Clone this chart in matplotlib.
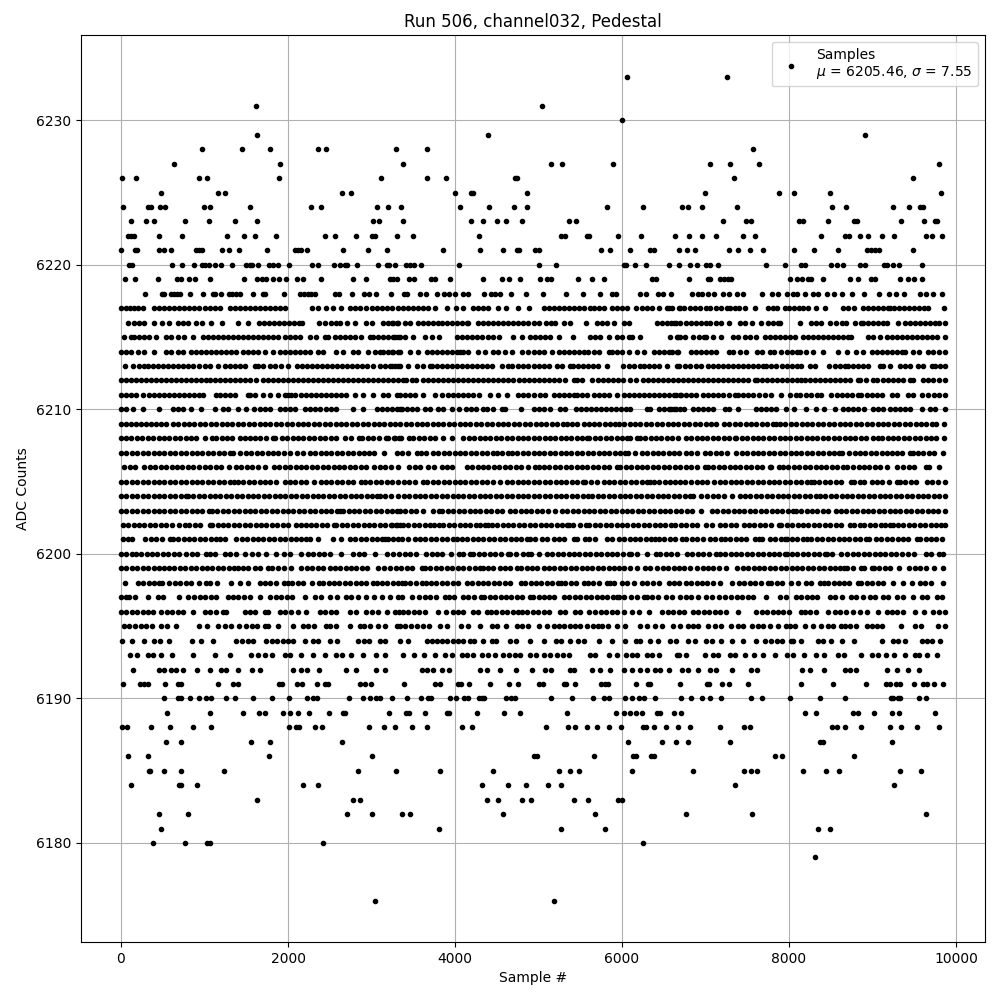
import matplotlib
matplotlib.use("Agg")
import matplotlib.pyplot as plt

# Sample numbers at each ADC level.
# Only a subset of the samples can be told apart where dots overlap.
x_6176 = [3038, 5186]
x_6179 = [8311]
x_6180 = [379, 762, 1030, 1062, 2415, 6251]
x_6181 = [475, 3804, 5269, 5797, 8347, 8491]
x_6182 = [451, 798, 2702, 3002, 3361, 3457, 4570, 5677, 6766, 7557, 9641]
x_6183 = [1625, 2774, 2858, 4379, 4511, 4798, 4914, 5425, 5593, 5952, 6004]
x_6184 = [116, 690, 718, 906, 2176, 2355, 4319, 4631, 4846, 5114, 5269, 7353, 9257]
x_6185 = [331, 351, 511, 718, 1230, 2834, 3289, 3816, 4451, 5245, 5377, 5485, 6120, 6850, 7461, 7545, 7617, 8168, 8443, 8599, 9329, 9585]
x_6186 = [80, 319, 1768, 3002, 4946, 4986, 5665, 6132, 6168, 6347, 6383, 7832, 7916, 8778]
x_6187 = [535, 715, 1553, 1780, 2643, 6072, 6479, 6647, 6790, 7293, 8367, 8407, 9234]
x_6188 = [8, 68, 355, 583, 858, 1074, 2008, 2096, 2136, 2319, 2403, 2966, 3146, 3277, 3481, 3661, 4080, 4200, 5090, 5353, 5437, 5581, 5701, 5844, 5988, 6251, 6287, 6383, 6527, 6671, 6814, 7174, 7461, 7533, 8515, 8575, 8671, 8862, 9210, 9341, 9533, 9796]
x_6189 = [547, 1062, 1457, 1649, 1721, 1936, 2020, 2116, 2248, 2487, 2655, 2679, 3206, 3409, 3445, 3637, 3900, 3932, 4259, 4583, 4775, 5341, 5928, 6024, 6092, 6168, 6240, 6419, 6451, 6623, 6707, 8192, 8323, 8763, 8826, 9018, 9234, 9313, 9749]
x_6190 = [511, 679, 719, 823, 931, 1015, 1075, 1255, 1363, 1579, 1807, 2011, 2227, 2299, 2347, 2731, 2899, 2983, 3055, 3103, 3247, 3427, 3595, 3679, 3715, 3943, 4015, 4111, 4159, 4291, 4327, 4351, 4615, 4675, 4723, 5148, 5400, 5652, 5784, 5844, 6036, 6120, 6204, 6264, 6396, 6708, 6828, 6960, 7056, 7188, 7548, 7680, 8016, 8376, 8676, 9216, 9240, 9300, 9324, 9552, 9636]
x_6191 = [20, 228, 272, 320, 532, 688, 720, 1160, 1340, 1400, 1892, 1928, 2108, 2168, 2348, 2444, 2480, 2864, 2924, 2996, 3392, 3764, 3824, 4040, 4076, 4172, 4424, 4652, 4760, 5004, 5052, 5304, 5332, 5436, 5748, 5792, 5832, 6168, 6312, 6336, 6696, 7020, 7044, 7200, 7284, 7512, 8148, 8532, 8916, 9156, 9204, 9276, 9324, 9492, 9600, 9648, 9732, 9840]
x_6192 = [148, 460, 520, 600, 660, 748, 908, 1060, 1200, 1260, 1400, 1572, 1660, 2060, 2160, 2228, 2372, 2700, 2812, 3052, 3160, 3600, 3660, 3740, 3840, 3932, 4300, 4380, 4540, 4732, 4920, 5080, 5152, 5380, 5420, 5640, 5740, 5860, 6020, 6120, 6220, 6300, 6400, 6460, 6560, 6720, 6785, 6908, 7056, 7120, 7320, 7548, 7616, 8156, 8256, 8416, 8668, 8733, 8808, 9168, 9288, 9428, 9560]
x_6193 = [108, 188, 320, 385, 480, 612, 860, 1120, 1308, 1560, 1640, 1720, 1810, 1960, 2025, 2160, 2300, 2440, 2580, 2645, 2760, 2900, 3048, 3160, 3380, 3508, 3632, 3760, 3880, 3968, 4080, 4145, 4210, 4320, 4400, 4480, 4572, 4652, 4717, 4782, 4900, 4968, 5060, 5140, 5220, 5292, 5360, 5612, 5680, 5840, 5940, 6052, 6117, 6182, 6300, 6360, 6440, 6660, 6688, 6768, 6988, 7088, 7153, 7288, 7356, 7468, 7580, 7688, 7828, 7980, 8048, 8176, 8328, 8416, 8588, 8656, 8868, 8996, 9060, 9160, 9260, 9388, 9508, 9560, 9648, 9768]
x_6194 = [8, 128, 280, 400, 465, 570, 852, 960, 1100, 1380, 1445, 1520, 1580, 1740, 1805, 1870, 1935, 2000, 2065, 2200, 2300, 2365, 2500, 2588, 2840, 2905, 2970, 3100, 3160, 3340, 3440, 3660, 3730, 3780, 3845, 3910, 3975, 4040, 4100, 4180, 4232, 4340, 4440, 4488, 4660, 4730, 4900, 5060, 5212, 5270, 5380, 5470, 5540, 5730, 5880, 6040, 6170, 6210, 6340, 6428, 6580, 6650, 6788, 6880, 7008, 7073, 7188, 7320, 7448, 7600, 7708, 7788, 7853, 7918, 8028, 8048, 8148, 8348, 8408, 8500, 8636, 8776, 9116, 9240, 9305, 9388, 9588, 9650, 9708, 9808]
x_6195 = [32, 97, 162, 240, 300, 372, 480, 548, 660, 932, 1032, 1160, 1240, 1320, 1412, 1500, 1565, 1630, 1720, 1760, 1880, 2060, 2180, 2245, 2310, 2460, 2500, 2580, 2740, 2860, 2912, 2980, 3080, 3160, 3300, 3340, 3405, 3470, 3540, 3620, 3692, 3820, 3900, 4068, 4160, 4300, 4440, 4508, 4612, 4740, 4805, 4870, 5000, 5100, 5180, 5245, 5310, 5375, 5440, 5500, 5580, 5648, 5708, 5760, 5828, 5940, 6040, 6220, 6300, 6400, 6480, 6608, 6700, 6788, 6848, 6910, 7028, 7108, 7188, 7300, 7388, 7448, 7556, 7628, 7688, 7768, 7868, 7968, 8008, 8070, 8188, 8288, 8388, 8468, 8530, 8628, 8668, 8733, 8798, 8928, 8988, 9050, 9108, 9340, 9508, 9576, 9788, 9868]
x_6196 = [0, 65, 130, 195, 260, 320, 380, 480, 545, 610, 680, 740, 860, 1000, 1060, 1140, 1220, 1260, 1480, 1545, 1610, 1720, 1760, 1900, 1965, 2030, 2120, 2220, 2380, 2445, 2510, 2575, 2740, 2820, 2932, 3000, 3080, 3180, 3280, 3330, 3375, 3440, 3505, 3570, 3640, 3800, 3892, 3972, 4037, 4100, 4220, 4280, 4380, 4430, 4495, 4560, 4625, 4700, 4760, 4800, 4865, 4930, 4995, 5060, 5125, 5260, 5320, 5440, 5500, 5600, 5680, 5745, 5810, 5875, 5940, 6020, 6120, 6200, 6320, 6480, 6545, 6610, 6680, 6748, 6848, 6913, 6978, 7043, 7108, 7173, 7240, 7388, 7608, 7673, 7738, 7803, 7868, 7933, 7998, 8148, 8188, 8253, 8318, 8468, 8548, 8613, 8678, 8768, 8856, 8936, 9068, 9168, 9233, 9298, 9363, 9508, 9620, 9728, 9793, 9868]
x_6197 = [0, 60, 100, 172, 328, 440, 500, 692, 800, 880, 945, 1010, 1075, 1140, 1280, 1340, 1405, 1470, 1540, 1660, 1790, 1855, 1920, 1985, 2050, 2200, 2320, 2390, 2500, 2590, 2700, 2760, 2840, 2932, 3030, 3120, 3220, 3320, 3370, 3488, 3570, 3635, 3700, 3770, 3880, 3930, 3990, 4100, 4150, 4230, 4310, 4350, 4415, 4480, 4545, 4610, 4675, 4740, 4800, 4900, 4930, 5000, 5060, 5125, 5190, 5300, 5370, 5435, 5500, 5565, 5630, 5695, 5760, 5825, 5890, 5940, 5960, 6025, 6110, 6180, 6268, 6300, 6365, 6430, 6530, 6600, 6700, 6765, 6830, 6908, 7008, 7080, 7156, 7228, 7308, 7373, 7438, 7503, 7568, 7730, 7888, 7968, 8080, 8145, 8210, 8275, 8340, 8488, 8556, 8636, 8748, 8808, 8888, 8968, 9030, 9128, 9188, 9288, 9368, 9488, 9588, 9656, 9768, 9828]
x_6198 = [48, 200, 265, 330, 400, 450, 490, 580, 645, 710, 775, 840, 940, 1020, 1060, 1148, 1312, 1430, 1520, 1660, 1725, 1790, 1860, 1950, 2000, 2050, 2115, 2180, 2290, 2370, 2420, 2485, 2550, 2615, 2680, 2745, 2810, 2875, 2940, 3020, 3060, 3125, 3190, 3255, 3320, 3370, 3400, 3460, 3530, 3600, 3650, 3710, 3775, 3840, 3905, 3970, 4040, 4140, 4200, 4270, 4335, 4400, 4465, 4530, 4595, 4660, 4790, 4840, 4905, 4970, 5035, 5100, 5165, 5230, 5270, 5320, 5385, 5450, 5540, 5590, 5655, 5720, 5820, 5860, 5910, 6000, 6060, 6140, 6240, 6300, 6370, 6440, 6560, 6625, 6680, 6763, 6828, 6893, 6958, 7023, 7088, 7168, 7316, 7400, 7465, 7530, 7595, 7660, 7748, 7788, 7853, 7918, 8028, 8108, 8200, 8268, 8368, 8416, 8468, 8533, 8598, 8663, 8720, 8828, 8868, 8933, 8998, 9063, 9128, 9248, 9368, 9468, 9568, 9633, 9698, 9840]
x_6199 = [0, 65, 130, 195, 260, 325, 390, 450, 510, 575, 640, 705, 770, 835, 900, 965, 1030, 1095, 1160, 1225, 1290, 1355, 1400, 1460, 1520, 1610, 1670, 1760, 1810, 1880, 1950, 2040, 2160, 2225, 2290, 2355, 2420, 2500, 2560, 2625, 2690, 2755, 2820, 2885, 2950, 3080, 3150, 3220, 3290, 3355, 3420, 3480, 3600, 3640, 3705, 3770, 3835, 3900, 3965, 4030, 4100, 4170, 4240, 4300, 4340, 4400, 4460, 4540, 4600, 4660, 4740, 4790, 4860, 4920, 4980, 5060, 5125, 5190, 5255, 5320, 5385, 5450, 5515, 5580, 5645, 5710, 5775, 5840, 5900, 5960, 6025, 6090, 6180, 6270, 6340, 6420, 6490, 6555, 6620, 6680, 6745, 6810, 6900, 6965, 7030, 7095, 7160, 7240, 7380, 7445, 7510, 7575, 7640, 7705, 7770, 7835, 7900, 7965, 8030, 8095, 8160, 8225, 8290, 8355, 8420, 8485, 8550, 8615, 8660, 8700, 8770, 8860, 8900, 8990, 9020, 9080, 9145, 9210, 9320, 9440, 9505, 9570, 9640, 9740, 9840]
x_6200 = [0, 65, 130, 185, 240, 308, 370, 435, 500, 565, 630, 700, 780, 845, 910, 1020, 1070, 1130, 1240, 1300, 1380, 1480, 1570, 1640, 1740, 1860, 1950, 2020, 2160, 2240, 2305, 2370, 2435, 2500, 2640, 2780, 2845, 2910, 3040, 3180, 3260, 3330, 3400, 3460, 3530, 3650, 3720, 3785, 3850, 3950, 4050, 4090, 4180, 4220, 4285, 4350, 4415, 4480, 4550, 4640, 4660, 4730, 4810, 4880, 4910, 5000, 5100, 5165, 5230, 5295, 5360, 5425, 5490, 5555, 5620, 5685, 5750, 5815, 5880, 5945, 6010, 6080, 6110, 6180, 6300, 6408, 6460, 6525, 6590, 6660, 6776, 6841, 6906, 6971, 7036, 7120, 7170, 7235, 7300, 7365, 7430, 7495, 7560, 7625, 7690, 7755, 7820, 7885, 7950, 7970, 8035, 8100, 8165, 8230, 8295, 8360, 8425, 8460, 8510, 8620, 8700, 8765, 8830, 8895, 8960, 9025, 9090, 9155, 9220, 9285, 9350, 9430, 9500, 9640, 9700, 9800, 9850]
x_6201 = [20, 80, 130, 290, 355, 420, 490, 590, 620, 685, 750, 820, 880, 945, 1010, 1075, 1140, 1190, 1240, 1380, 1450, 1510, 1575, 1640, 1705, 1770, 1835, 1900, 1965, 2030, 2095, 2160, 2210, 2260, 2360, 2540, 2640, 2740, 2805, 2870, 2935, 3000, 3065, 3130, 3160, 3200, 3260, 3320, 3370, 3435, 3520, 3580, 3645, 3710, 3775, 3840, 3905, 3970, 4020, 4080, 4145, 4210, 4275, 4340, 4405, 4470, 4535, 4600, 4665, 4730, 4795, 4860, 4900, 4960, 5040, 5100, 5180, 5245, 5310, 5420, 5460, 5560, 5610, 5680, 5820, 5880, 5960, 6025, 6090, 6155, 6220, 6285, 6350, 6400, 6440, 6505, 6570, 6635, 6720, 6770, 6835, 6900, 6970, 7050, 7110, 7190, 7230, 7295, 7360, 7425, 7490, 7590, 7640, 7680, 7768, 7833, 7898, 7950, 7970, 8035, 8100, 8165, 8220, 8268, 8333, 8398, 8463, 8528, 8593, 8658, 8723, 8788, 8853, 8918, 8960, 9040, 9105, 9170, 9235, 9300, 9365, 9430, 9530, 9570, 9635, 9700, 9765, 9830]
x_6202 = [20, 85, 150, 215, 280, 345, 410, 475, 540, 605, 700, 772, 820, 885, 950, 1060, 1092, 1157, 1222, 1287, 1352, 1417, 1482, 1547, 1612, 1677, 1742, 1807, 1872, 1937, 2002, 2100, 2152, 2210, 2275, 2340, 2405, 2470, 2550, 2580, 2645, 2710, 2775, 2840, 2905, 2970, 3035, 3100, 3165, 3230, 3295, 3340, 3240, 3310, 3375, 3440, 3505, 3570, 3635, 3700, 3750, 3812, 3860, 3925, 3990, 4055, 4120, 4185, 4250, 4300, 4360, 4400, 4440, 4505, 4570, 4635, 4700, 4765, 4830, 4895, 4960, 5025, 5090, 5155, 5220, 5285, 5340, 5368, 5410, 5500, 5570, 5610, 5675, 5740, 5805, 5870, 5935, 6000, 6065, 6130, 6195, 6260, 6325, 6390, 6455, 6520, 6590, 6640, 6705, 6770, 6835, 6900, 7000, 7076, 7170, 7230, 7300, 7370, 7456, 7521, 7586, 7651, 7716, 7781, 7880, 7908, 7973, 8038, 8103, 8168, 8233, 8298, 8363, 8428, 8493, 8558, 8623, 8728, 8776, 8850, 8900, 8965, 9030, 9100, 9150, 9210, 9240, 9305, 9370, 9435, 9500, 9565, 9630, 9695, 9760, 9825, 9868]
x_6203 = [0, 65, 130, 195, 260, 325, 390, 455, 520, 585, 650, 715, 780, 845, 910, 975, 1050, 1090, 1155, 1220, 1285, 1350, 1415, 1480, 1545, 1610, 1675, 1740, 1805, 1870, 1935, 2000, 2065, 2130, 2195, 2260, 2325, 2390, 2455, 2520, 2585, 2620, 2660, 2725, 2790, 2855, 2920, 2985, 3050, 3115, 3180, 3245, 3310, 3340, 3405, 3470, 3535, 3620, 3740, 3810, 3850, 3915, 3980, 4045, 4110, 4175, 4240, 4305, 4370, 4435, 4500, 4565, 4660, 4720, 4785, 4850, 4915, 4980, 5045, 5110, 5200, 5280, 5345, 5410, 5475, 5540, 5605, 5670, 5735, 5800, 5865, 5930, 5995, 6060, 6125, 6190, 6255, 6320, 6385, 6450, 6515, 6580, 6645, 6710, 6775, 6840, 6940, 7076, 7141, 7206, 7271, 7336, 7401, 7466, 7531, 7596, 7661, 7726, 7791, 7856, 7921, 7986, 8048, 8080, 8145, 8210, 8275, 8340, 8405, 8470, 8568, 8620, 8685, 8750, 8815, 8880, 8945, 9010, 9075, 9140, 9205, 9270, 9335, 9400, 9465, 9530, 9595, 9660, 9725, 9790, 9868]
x_6204 = [0, 65, 130, 195, 260, 325, 390, 455, 520, 585, 650, 715, 780, 800, 865, 930, 995, 1060, 1125, 1190, 1255, 1320, 1385, 1450, 1515, 1580, 1645, 1710, 1775, 1840, 1905, 1970, 2035, 2100, 2165, 2230, 2295, 2360, 2425, 2490, 2555, 2620, 2685, 2750, 2815, 2880, 2945, 3010, 3060, 3100, 3165, 3230, 3320, 3385, 3450, 3515, 3580, 3645, 3710, 3775, 3840, 3905, 3970, 4035, 4100, 4165, 4230, 4295, 4360, 4425, 4490, 4555, 4620, 4685, 4750, 4815, 4880, 4945, 5010, 5075, 5140, 5205, 5270, 5335, 5400, 5465, 5530, 5595, 5640, 5710, 5775, 5840, 5905, 5970, 6035, 6100, 6165, 6230, 6295, 6360, 6425, 6490, 6555, 6620, 6685, 6750, 6815, 6848, 6940, 7020, 7090, 7155, 7220, 7320, 7408, 7473, 7538, 7603, 7668, 7733, 7798, 7863, 7928, 7993, 8058, 8123, 8188, 8253, 8320, 8370, 8435, 8500, 8565, 8630, 8695, 8760, 8825, 8890, 8955, 9020, 9085, 9150, 9215, 9280, 9345, 9410, 9475, 9540, 9605, 9670, 9735, 9800, 9868]
x_6205 = [0, 65, 130, 195, 260, 325, 390, 455, 520, 585, 650, 715, 780, 845, 910, 975, 1040, 1105, 1170, 1235, 1300, 1348, 1400, 1465, 1530, 1595, 1660, 1725, 1790, 1860, 1960, 2020, 2085, 2150, 2215, 2310, 2390, 2455, 2520, 2585, 2650, 2715, 2780, 2870, 2920, 2985, 3050, 3115, 3180, 3245, 3320, 3385, 3450, 3515, 3620, 3670, 3735, 3800, 3865, 3930, 3995, 4060, 4125, 4190, 4255, 4320, 4385, 4450, 4540, 4620, 4685, 4750, 4815, 4880, 4945, 5010, 5075, 5140, 5205, 5270, 5335, 5400, 5465, 5530, 5560, 5625, 5700, 5780, 5845, 5910, 5975, 6040, 6105, 6170, 6235, 6300, 6340, 6380, 6445, 6510, 6575, 6640, 6690, 6755, 6828, 6893, 6958, 7020, 7100, 7170, 7235, 7300, 7365, 7430, 7495, 7560, 7625, 7690, 7755, 7820, 7885, 7950, 8015, 8080, 8145, 8210, 8260, 8300, 8365, 8430, 8495, 8560, 8625, 8748, 8780, 8845, 8900, 8990, 9050, 9115, 9200, 9288, 9328, 9393, 9458, 9523, 9650, 9708, 9780, 9868]
x_6206 = [40, 105, 170, 280, 345, 410, 475, 540, 605, 670, 735, 800, 860, 940, 1005, 1070, 1135, 1200, 1290, 1380, 1440, 1505, 1570, 1640, 1730, 1830, 1895, 1960, 2025, 2090, 2155, 2220, 2285, 2350, 2415, 2480, 2545, 2610, 2675, 2740, 2805, 2870, 2935, 3030, 3100, 3165, 3230, 3320, 3450, 3515, 3580, 3680, 3750, 3850, 3900, 3960, 4140, 4205, 4270, 4335, 4400, 4465, 4530, 4595, 4660, 4725, 4790, 4880, 4960, 5000, 5065, 5130, 5195, 5260, 5325, 5390, 5455, 5520, 5585, 5650, 5715, 5780, 5840, 5940, 5980, 6045, 6110, 6175, 6240, 6305, 6370, 6435, 6500, 6565, 6630, 6695, 6763, 6828, 6893, 6990, 7028, 7093, 7158, 7223, 7288, 7353, 7418, 7483, 7548, 7613, 7678, 7768, 7788, 7878, 7928, 7993, 8058, 8123, 8188, 8253, 8318, 8383, 8448, 8513, 8578, 8643, 8690, 8768, 8833, 8898, 8963, 9028, 9093, 9178, 9288, 9368, 9433, 9498, 9640, 9680, 9800]
x_6207 = [0, 65, 130, 195, 260, 325, 390, 455, 520, 585, 650, 715, 780, 845, 910, 975, 1040, 1105, 1170, 1235, 1300, 1345, 1430, 1495, 1560, 1625, 1690, 1755, 1820, 1885, 1950, 2025, 2110, 2180, 2260, 2325, 2390, 2455, 2520, 2585, 2650, 2715, 2780, 2845, 2910, 2975, 3030, 3150, 3300, 3370, 3440, 3550, 3590, 3650, 3740, 3800, 3865, 3930, 3995, 4060, 4125, 4190, 4255, 4320, 4385, 4450, 4500, 4560, 4640, 4680, 4745, 4810, 4875, 4940, 5005, 5070, 5135, 5200, 5265, 5330, 5395, 5460, 5525, 5590, 5655, 5720, 5785, 5850, 5915, 5980, 6040, 6070, 6160, 6236, 6301, 6366, 6431, 6496, 6561, 6626, 6680, 6763, 6828, 6900, 6990, 7055, 7120, 7185, 7260, 7368, 7433, 7498, 7563, 7628, 7693, 7758, 7823, 7888, 7953, 8018, 8083, 8148, 8213, 8278, 8343, 8408, 8473, 8538, 8603, 8640, 8720, 8785, 8850, 8915, 8980, 9045, 9110, 9176, 9228, 9293, 9358, 9450, 9480, 9545, 9610, 9675, 9740, 9848]
x_6208 = [0, 60, 125, 190, 255, 320, 385, 450, 515, 580, 645, 710, 775, 840, 900, 1000, 1090, 1140, 1205, 1270, 1330, 1420, 1480, 1550, 1600, 1670, 1740, 1820, 1850, 1930, 1990, 2055, 2120, 2185, 2250, 2315, 2380, 2445, 2510, 2575, 2680, 2760, 2850, 2890, 2955, 3020, 3085, 3170, 3200, 3265, 3330, 3285, 3350, 3450, 3500, 3565, 3630, 3695, 3760, 3860, 3960, 4100, 4165, 4230, 4295, 4360, 4425, 4490, 4555, 4620, 4685, 4750, 4815, 4880, 4945, 5010, 5075, 5140, 5200, 5265, 5330, 5395, 5460, 5525, 5580, 5610, 5675, 5740, 5805, 5870, 5935, 6000, 6060, 6100, 6180, 6212, 6277, 6342, 6407, 6472, 6537, 6602, 6667, 6763, 6828, 6893, 6958, 7023, 7088, 7153, 7218, 7283, 7348, 7368, 7433, 7498, 7563, 7628, 7693, 7758, 7823, 7888, 7948, 8016, 8081, 8146, 8211, 8276, 8341, 8406, 8471, 8536, 8601, 8666, 8731, 8796, 8861, 8926, 9000, 9068, 9116, 9181, 9246, 9311, 9376, 9441, 9506, 9571, 9636, 9701, 9766, 9860]
x_6209 = [0, 60, 120, 180, 240, 300, 360, 420, 480, 540, 620, 685, 750, 815, 880, 945, 1010, 1075, 1140, 1205, 1270, 1335, 1400, 1465, 1530, 1595, 1660, 1725, 1790, 1855, 1920, 1985, 2050, 2115, 2180, 2245, 2310, 2375, 2440, 2505, 2570, 2635, 2700, 2765, 2830, 2895, 2960, 3025, 3090, 3155, 3220, 3285, 3345, 3410, 3475, 3540, 3605, 3670, 3735, 3800, 3860, 3925, 3990, 4055, 4120, 4185, 4250, 4315, 4380, 4445, 4510, 4575, 4640, 4705, 4770, 4835, 4900, 4965, 5030, 5095, 5160, 5225, 5290, 5340, 5400, 5465, 5545, 5600, 5665, 5730, 5795, 5860, 5920, 5960, 6025, 6090, 6155, 6220, 6285, 6350, 6415, 6480, 6545, 6610, 6675, 6740, 6805, 6870, 6935, 7000, 7065, 7130, 7220, 7285, 7350, 7415, 7480, 7545, 7610, 7675, 7740, 7805, 7850, 7890, 7955, 8020, 8085, 8150, 8215, 8280, 8345, 8410, 8475, 8540, 8605, 8670, 8735, 8800, 8865, 8930, 8995, 9060, 9125, 9190, 9255, 9320, 9385, 9450, 9515, 9580, 9645, 9710, 9760, 9856]
x_6210 = [0, 60, 140, 260, 452, 620, 680, 740, 840, 960, 1120, 1220, 1280, 1400, 1492, 1588, 1660, 1720, 1780, 1900, 1960, 2020, 2080, 2200, 2260, 2320, 2380, 2460, 2520, 2580, 2780, 2900, 3060, 3120, 3180, 3240, 3340, 3300, 3360, 3420, 3480, 3548, 3640, 3700, 3800, 3860, 3960, 4052, 4132, 4190, 4250, 4340, 4380, 4460, 4560, 4600, 4788, 4940, 5000, 5060, 5140, 5260, 5320, 5452, 5510, 5570, 5630, 5690, 5750, 5810, 5870, 5930, 5990, 6050, 6100, 6300, 6332, 6440, 6500, 6560, 6620, 6700, 6588, 6650, 6748, 6848, 6910, 6970, 7030, 7090, 7228, 7280, 7388, 7600, 7668, 7728, 7790, 7850, 7968, 8056, 8208, 8328, 8416, 8548, 8648, 8710, 8770, 8830, 8900, 9008, 9068, 9128, 9208, 9268, 9330, 9390, 9450, 9588, 9688, 9750, 9868]
x_6211 = [0, 60, 120, 180, 260, 340, 400, 460, 520, 580, 640, 700, 760, 820, 880, 940, 980, 1132, 1190, 1250, 1310, 1370, 1520, 1540, 1600, 1700, 1790, 1880, 1960, 2000, 2040, 2080, 2160, 2220, 2280, 2340, 2400, 2460, 2520, 2580, 2640, 2700, 2800, 2900, 3020, 3140, 3200, 3300, 3340, 3400, 3460, 3520, 3612, 3760, 3840, 3920, 3980, 4040, 4100, 4160, 4220, 4292, 4420, 4520, 4620, 4760, 4820, 4880, 4940, 5020, 5080, 5180, 5240, 5300, 5360, 5420, 5460, 5520, 5580, 5660, 5720, 5780, 5840, 5940, 6020, 6080, 6140, 6200, 6260, 6320, 6380, 6440, 6500, 6560, 6620, 6700, 6650, 6710, 6770, 6828, 6888, 6968, 7028, 7090, 7150, 7210, 7280, 7348, 7388, 7450, 7510, 7570, 7640, 7708, 7788, 7908, 8016, 8080, 8130, 8208, 8268, 8330, 8388, 8508, 8570, 8630, 8690, 8750, 8828, 8868, 8930, 8990, 9048, 9108, 9228, 9288, 9428, 9490, 9588, 9668, 9740, 9800, 9868]
x_6212 = [0, 60, 120, 180, 240, 300, 360, 420, 480, 540, 600, 660, 720, 780, 840, 900, 960, 1020, 1060, 1120, 1180, 1240, 1300, 1360, 1420, 1480, 1540, 1620, 1700, 1760, 1820, 1880, 1940, 2000, 2060, 2120, 2180, 2240, 2300, 2360, 2420, 2480, 2540, 2600, 2660, 2720, 2780, 2840, 2900, 2960, 3020, 3080, 3140, 3200, 3260, 3320, 3380, 3412, 3480, 3530, 3620, 3680, 3740, 3800, 3860, 3920, 3980, 4040, 4100, 4160, 4220, 4280, 4340, 4400, 4460, 4520, 4580, 4640, 4700, 4772, 4830, 4890, 4950, 5010, 5070, 5130, 5190, 5250, 5320, 5420, 5460, 5520, 5640, 5708, 5770, 5830, 5890, 5950, 6010, 6100, 6172, 6252, 6310, 6370, 6430, 6490, 6550, 6610, 6670, 6730, 6790, 6850, 6910, 6970, 7030, 7090, 7150, 7210, 7270, 7330, 7390, 7450, 7510, 7590, 7616, 7680, 7740, 7800, 7860, 7920, 7980, 8040, 8100, 8148, 8188, 8250, 8310, 8370, 8430, 8490, 8550, 8610, 8670, 8730, 8828, 8856, 8920, 9000, 9048, 9120, 9180, 9240, 9300, 9368, 9448, 9488, 9608, 9670, 9730, 9800, 9868]
x_6213 = [52, 140, 220, 280, 320, 380, 440, 500, 560, 620, 680, 740, 800, 860, 940, 1000, 1060, 1160, 1240, 1300, 1360, 1420, 1480, 1600, 1640, 1700, 1780, 1848, 1920, 2000, 2112, 2170, 2230, 2290, 2350, 2410, 2470, 2530, 2590, 2650, 2710, 2770, 2830, 2890, 2950, 3020, 3100, 3160, 3220, 3320, 3240, 3280, 3340, 3440, 3548, 3620, 3700, 3720, 3780, 3840, 3900, 3960, 4020, 4080, 4140, 4200, 4260, 4320, 4380, 4440, 4560, 4640, 4680, 4760, 4820, 4880, 4940, 5000, 5060, 5120, 5220, 5280, 5380, 5412, 5470, 5530, 5590, 5650, 5710, 5820, 6008, 6080, 6140, 6220, 6260, 6320, 6380, 6440, 6540, 6660, 6688, 6750, 6810, 6888, 6948, 7028, 7090, 7150, 7210, 7270, 7330, 7390, 7450, 7510, 7570, 7630, 7688, 7728, 7790, 7850, 7910, 7970, 8030, 8090, 8148, 8248, 8316, 8480, 8548, 8610, 8668, 8708, 8770, 8830, 8890, 8950, 9088, 9128, 9208, 9328, 9390, 9450, 9548, 9608, 9708, 9748, 9810, 9868]
x_6214 = [0, 60, 120, 200, 280, 392, 540, 600, 680, 740, 840, 900, 960, 1020, 1080, 1140, 1200, 1260, 1320, 1380, 1460, 1520, 1580, 1640, 1720, 1820, 1900, 1960, 2020, 2080, 2140, 2200, 2260, 2360, 2420, 2580, 2660, 2780, 2840, 2960, 3040, 3100, 3140, 3200, 3260, 3320, 3240, 3340, 3460, 3560, 3660, 3720, 3780, 3840, 3900, 3960, 4020, 4060, 4100, 4160, 4280, 4360, 4460, 4520, 4600, 4680, 4800, 4880, 4940, 5000, 5060, 5160, 5240, 5300, 5360, 5420, 5480, 5540, 5592, 5668, 5730, 5840, 5880, 5940, 6000, 6080, 6180, 6268, 6380, 6440, 6500, 6600, 6660, 6568, 6668, 6828, 6890, 6950, 7010, 7070, 7130, 7280, 7328, 7408, 7488, 7616, 7680, 7768, 7820, 7908, 7970, 8030, 8090, 8136, 8208, 8288, 8408, 8588, 8700, 8808, 8880, 8988, 9048, 9110, 9170, 9230, 9290, 9348, 9388, 9488, 9560, 9668, 9730, 9800, 9868]
x_6215 = [40, 120, 160, 220, 280, 340, 420, 540, 600, 680, 760, 860, 980, 1040, 1100, 1160, 1220, 1280, 1340, 1400, 1460, 1520, 1580, 1640, 1700, 1760, 1820, 1880, 1960, 2020, 2080, 2140, 2260, 2340, 2440, 2480, 2560, 2620, 2680, 2740, 2800, 2880, 2980, 3020, 3080, 3140, 3200, 3260, 3320, 3280, 3340, 3400, 3500, 3640, 3720, 3812, 4020, 4080, 4140, 4200, 4260, 4320, 4400, 4452, 4532, 4700, 4800, 4900, 4960, 5020, 5080, 5140, 5240, 5412, 5620, 5680, 5740, 5840, 5940, 6000, 6080, 6120, 6212, 6580, 6660, 6700, 6668, 6750, 6848, 6920, 6980, 7008, 7088, 7188, 7328, 7390, 7468, 7528, 7608, 7708, 7768, 7830, 7890, 7950, 8010, 8068, 8168, 8230, 8290, 8350, 8410, 8470, 8530, 8590, 8650, 8710, 8748, 8948, 9010, 9088, 9168, 9230, 9290, 9350, 9410, 9470, 9530, 9590, 9650, 9710, 9770, 9868]
x_6216 = [88, 150, 210, 270, 400, 488, 580, 680, 740, 800, 900, 972, 1072, 1212, 1400, 1520, 1652, 1710, 1770, 1830, 1890, 1950, 2010, 2070, 2130, 2172, 2372, 2440, 2520, 2580, 2620, 2708, 2808, 2932, 3000, 3140, 3200, 3260, 3320, 3240, 3308, 3400, 3460, 3560, 3620, 3680, 3740, 3800, 3840, 3900, 3960, 4020, 4080, 4140, 4160, 4280, 4340, 4400, 4460, 4520, 4580, 4640, 4700, 4760, 4820, 4880, 4940, 5000, 5092, 5150, 5200, 5300, 5380, 5568, 5700, 5760, 5820, 5900, 6020, 6080, 6420, 6480, 6540, 6620, 6700, 6588, 6650, 6768, 6828, 6890, 6950, 7000, 7048, 7120, 7180, 7280, 7408, 7470, 7560, 7668, 7748, 7808, 7868, 7888, 8128, 8268, 8328, 8388, 8488, 8568, 8630, 8688, 8796, 8860, 8888, 8948, 9010, 9070, 9130, 9168, 9308, 9388, 9448, 9510, 9570, 9630, 9688, 9748, 9800, 9868]
x_6217 = [0, 55, 110, 160, 200, 260, 400, 455, 520, 580, 640, 700, 760, 820, 880, 940, 1000, 1060, 1120, 1180, 1308, 1370, 1430, 1490, 1550, 1610, 1670, 1730, 1790, 1850, 1910, 1970, 2292, 2360, 2452, 2540, 2640, 2740, 2800, 2860, 2930, 3000, 3060, 3120, 3190, 3250, 3320, 3380, 3440, 3500, 3560, 3620, 3680, 3760, 3900, 4012, 4100, 4212, 4280, 4340, 4400, 4520, 4608, 4760, 4892, 5060, 5130, 5180, 5240, 5300, 5360, 5420, 5480, 5540, 5620, 5660, 5720, 5780, 5880, 5940, 6000, 6060, 6172, 6240, 6300, 6360, 6440, 6540, 6600, 6700, 6568, 6688, 6748, 6810, 6870, 6930, 7000, 7048, 7120, 7180, 7260, 7288, 7348, 7400, 7468, 7588, 7748, 7808, 7856, 7948, 8000, 8060, 8120, 8168, 8228, 8328, 8436, 8648, 8708, 8780, 8880, 8940, 9000, 9060, 9120, 9180, 9208, 9256, 9320, 9380, 9440, 9500, 9560, 9620, 9668, 9860]
x_6218 = [284, 488, 512, 596, 632, 668, 704, 824, 980, 1100, 1124, 1196, 1292, 1328, 1376, 1424, 1580, 1700, 1724, 1952, 2144, 2192, 2240, 2276, 2324, 2564, 2612, 2768, 2912, 2972, 3056, 3236, 3392, 3428, 3584, 3656, 3788, 3872, 3932, 4004, 4100, 4160, 4352, 4436, 4484, 4544, 4676, 4856, 5052, 5328, 5532, 5736, 5880, 5928, 6216, 6288, 6432, 6492, 6588, 6840, 6912, 6960, 7032, 7100, 7212, 7284, 7380, 7452, 7680, 7800, 7872, 7980, 8052, 8100, 8196, 8292, 8352, 8460, 8544, 8640, 8760, 8892, 9072, 9192, 9276, 9372, 9564, 9636, 9720, 9828]
x_6219 = [44, 164, 440, 668, 716, 812, 884, 1064, 1472, 1628, 1688, 1736, 1820, 1892, 1976, 2108, 2180, 2396, 2780, 2936, 3224, 3260, 3308, 3452, 3512, 3716, 3764, 3944, 4340, 4568, 4652, 4784, 5016, 5100, 5148, 5472, 5640, 5784, 6360, 6408, 6804, 7032, 7056, 7176, 7224, 7272, 7308, 8016, 8100, 8160, 8232, 8268, 8412, 8736, 8832, 8976, 9024, 9324, 9420, 9492, 9588]
x_6220 = [92, 128, 608, 728, 872, 968, 1004, 1052, 1124, 1196, 1328, 1496, 1544, 1568, 1640, 1772, 1820, 1880, 2012, 2288, 2360, 2552, 2624, 2684, 2708, 2828, 3080, 3188, 3212, 3284, 3416, 3464, 3512, 3596, 4052, 5004, 5208, 6024, 6048, 6156, 6288, 6564, 6684, 6816, 6900, 7008, 7056, 7152, 7728, 7956, 8148, 8196, 8508, 8580, 8652, 8856, 8904, 9132, 9168, 9240, 9312, 9588]
x_6221 = [0, 164, 188, 452, 512, 596, 896, 932, 968, 1208, 1292, 1412, 1748, 2084, 2120, 2156, 2228, 2660, 2960, 3188, 3860, 4304, 4580, 4748, 4772, 4956, 5004, 5748, 5856, 6096, 6336, 6384, 6684, 6780, 6876, 7284, 7392, 7536, 7692, 8064, 8304, 8592, 8928, 8976, 9024, 9072, 9480]
x_6222 = [80, 116, 152, 452, 728, 1268, 1472, 1604, 1856, 2444, 2564, 2816, 3008, 3044, 3308, 3500, 4292, 5268, 5316, 5580, 5604, 5952, 6228, 6636, 6804, 6960, 7128, 7452, 7596, 8388, 8676, 8724, 8856, 8940, 9108, 9252, 9636, 9708, 9828]
x_6223 = [116, 296, 392, 764, 1052, 1364, 1628, 3020, 3092, 3380, 4196, 4340, 4508, 4616, 4808, 5364, 5448, 7212, 7488, 7548, 8124, 8172, 8472, 8784, 8820, 9336, 9612, 9744, 9768]
x_6224 = [20, 320, 356, 464, 524, 992, 1064, 1544, 2276, 2396, 3068, 3200, 3356, 4064, 4412, 4712, 4868, 5820, 6252, 6720, 6792, 6960, 7380, 8520, 8688, 9240, 9432, 9564, 9600]
x_6225 = [476, 1160, 1244, 2648, 2756, 4004, 4196, 4220, 4868, 6996, 7884, 8064, 8496, 9816]
x_6226 = [8, 176, 932, 1028, 1892, 3116, 3668, 3896, 4724, 4748, 7344, 9480]
x_6227 = [632, 1904, 3380, 5148, 5280, 5892, 7056, 7296, 7644, 9792]
x_6228 = [968, 1448, 1784, 2360, 2456, 3296, 3668, 7572]
x_6229 = [1628, 4400, 8904]
x_6230 = [6000]
x_6231 = [1616, 5040]
x_6233 = [6060, 7260]

levels = [6176, 6179, 6180, 6181, 6182, 6183, 6184, 6185, 6186, 6187, 6188, 6189, 6190,
          6191, 6192, 6193, 6194, 6195, 6196, 6197, 6198, 6199, 6200, 6201, 6202, 6203,
          6204, 6205, 6206, 6207, 6208, 6209, 6210, 6211, 6212, 6213, 6214, 6215, 6216,
          6217, 6218, 6219, 6220, 6221, 6222, 6223, 6224, 6225, 6226, 6227, 6228, 6229,
          6230, 6231, 6233]
samples_by_level = [globals()[f"x_{lv}"] for lv in levels]

xs = [s for row in samples_by_level for s in row]
ys = [lv for lv, row in zip(levels, samples_by_level) for _ in row]

fig, ax = plt.subplots(figsize=(10, 10), dpi=100)
fig.subplots_adjust(left=0.081, right=0.985, top=0.965, bottom=0.058)
ax.scatter(xs, ys, marker=".", color="black",
           label="Samples\n$\\mu$ = 6205.46, $\\sigma$ = 7.55", zorder=2)
ax.set_xlim(-479, 10347)
ax.set_ylim(6173.15, 6235.9)
ax.set_title("Run 506, channel032, Pedestal")
ax.set_xlabel("Sample #")
ax.set_ylabel("ADC Counts")
ax.grid(True)
ax.set_axisbelow(True)
ax.legend(loc="upper right")
fig.savefig("out.png", dpi=100)
